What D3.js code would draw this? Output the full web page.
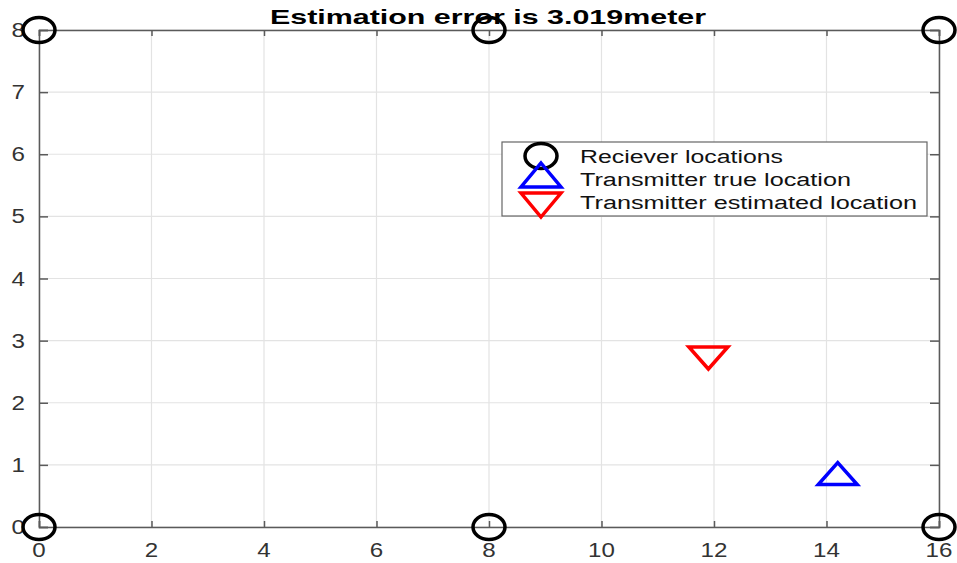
<!DOCTYPE html>
<html><head><meta charset="utf-8">
<script src="https://cdn.jsdelivr.net/npm/d3@7"></script>
<style>body{margin:0;background:#fff}svg{display:block}</style>
</head><body>
<svg id="c" width="957" height="563"></svg>
<script>
const titleText = "Estimation error is 3.019meter";
const receiversX = [0, 0, 8, 8, 16, 16];
const receiversY = [0, 8, 0, 8, 0, 8];
const trueLoc = [14.2, 0.86];
const estLoc = [11.9, 2.72];
const xTicks = [0, 2, 4, 6, 8, 10, 12, 14, 16];
const yTicks = [0, 1, 2, 3, 4, 5, 6, 7, 8];
const legendLabels = ["Reciever locations", "Transmitter true location", "Transmitter estimated location"];

const svg = d3.select("#c");
const L = 39, R = 939, T = 30, B = 527;
const x = d3.scaleLinear().domain([0, 16]).range([L, R]);
const y = d3.scaleLinear().domain([0, 8]).range([B, T]);
const font = "'Liberation Sans', Arial, sans-serif";
const axCol = "#5a5a5a";

// grid
svg.append("g").selectAll("line").data(xTicks).join("line")
  .attr("x1", d => x(d)).attr("x2", d => x(d)).attr("y1", T).attr("y2", B)
  .attr("stroke", "#e3e3e3").attr("stroke-width", 1.2);
svg.append("g").selectAll("line").data(yTicks).join("line")
  .attr("y1", d => y(d)).attr("y2", d => y(d)).attr("x1", L).attr("x2", R)
  .attr("stroke", "#e3e3e3").attr("stroke-width", 1.2);

// axes via d3 axis (ticks inward)
const axB = d3.axisBottom(x).tickValues(xTicks).tickSize(-6).tickFormat("");
const axT = d3.axisTop(x).tickValues(xTicks).tickSize(-6).tickFormat("");
const axLf = d3.axisLeft(y).tickValues(yTicks).tickSize(-9).tickFormat("");
const axRt = d3.axisRight(y).tickValues(yTicks).tickSize(-9).tickFormat("");
[[axB, `translate(0,${B})`], [axT, `translate(0,${T})`], [axLf, `translate(${L},0)`], [axRt, `translate(${R},0)`]].forEach(([a, tr]) => {
  const g = svg.append("g").attr("transform", tr).call(a);
  g.selectAll("path,line").attr("stroke", axCol).attr("stroke-width", 1.5);
});

// tick labels
svg.append("g").selectAll("text").data(xTicks).join("text")
  .attr("transform", d => `translate(${x(d)},557) scale(1.15,1)`)
  .attr("text-anchor", "middle").attr("font-family", font).attr("font-size", 21)
  .attr("fill", "#333").text(d => d);
svg.append("g").selectAll("text").data(yTicks).join("text")
  .attr("transform", d => `translate(25,${y(d) + 7}) scale(1.15,1)`)
  .attr("text-anchor", "end").attr("font-family", font).attr("font-size", 21)
  .attr("fill", "#333").text(d => d);

// title
svg.append("text").attr("x", 488).attr("y", 24).attr("text-anchor", "middle")
  .attr("font-family", font).attr("font-weight", "bold").attr("font-size", 21)
  .attr("textLength", 436).attr("lengthAdjust", "spacingAndGlyphs").text(titleText);

// markers
const triUp = "M0,-11 L19.5,11 L-19.5,11 Z";
const triDown = "M0,11 L19.5,-11 L-19.5,-11 Z";
const triUpL = "M0,-12 L20,12 L-20,12 Z";
const triDownL = "M0,12 L20,-12 L-20,-12 Z";
function circ(g, cx, cy) {
  g.append("ellipse").attr("cx", cx).attr("cy", cy).attr("rx", 16).attr("ry", 12.5)
    .attr("fill", "none").attr("stroke", "#000").attr("stroke-width", 3.5);
}
function tri(g, cx, cy, p, col) {
  g.append("path").attr("d", p).attr("transform", `translate(${cx},${cy})`)
    .attr("fill", "none").attr("stroke", col).attr("stroke-width", 3.5).attr("stroke-linejoin", "miter");
}
const mk = svg.append("g");
receiversX.forEach((d, i) => circ(mk, x(d), y(receiversY[i])));
tri(mk, x(trueLoc[0]), y(trueLoc[1]), triUp, "#0000ff");
tri(mk, x(estLoc[0]), y(estLoc[1]), triDown, "#ff0000");

// legend
const lg = svg.append("g");
lg.append("rect").attr("x", 502).attr("y", 142).attr("width", 425).attr("height", 74)
  .attr("fill", "#fff").attr("stroke", "#666").attr("stroke-width", 1.2);
const ly = [157, 180, 203];
const lw = [203, 271, 337];
circ(lg, 541, 156);
tri(lg, 541, 175, triUpL, "#0000ff");
tri(lg, 541, 205, triDownL, "#ff0000");
legendLabels.forEach((t, i) => {
  lg.append("text").attr("x", 580).attr("y", ly[i] + 6).attr("font-family", font)
    .attr("font-size", 18).attr("textLength", lw[i]).attr("lengthAdjust", "spacingAndGlyphs")
    .attr("fill", "#111").text(t);
});
</script>
</body></html>
